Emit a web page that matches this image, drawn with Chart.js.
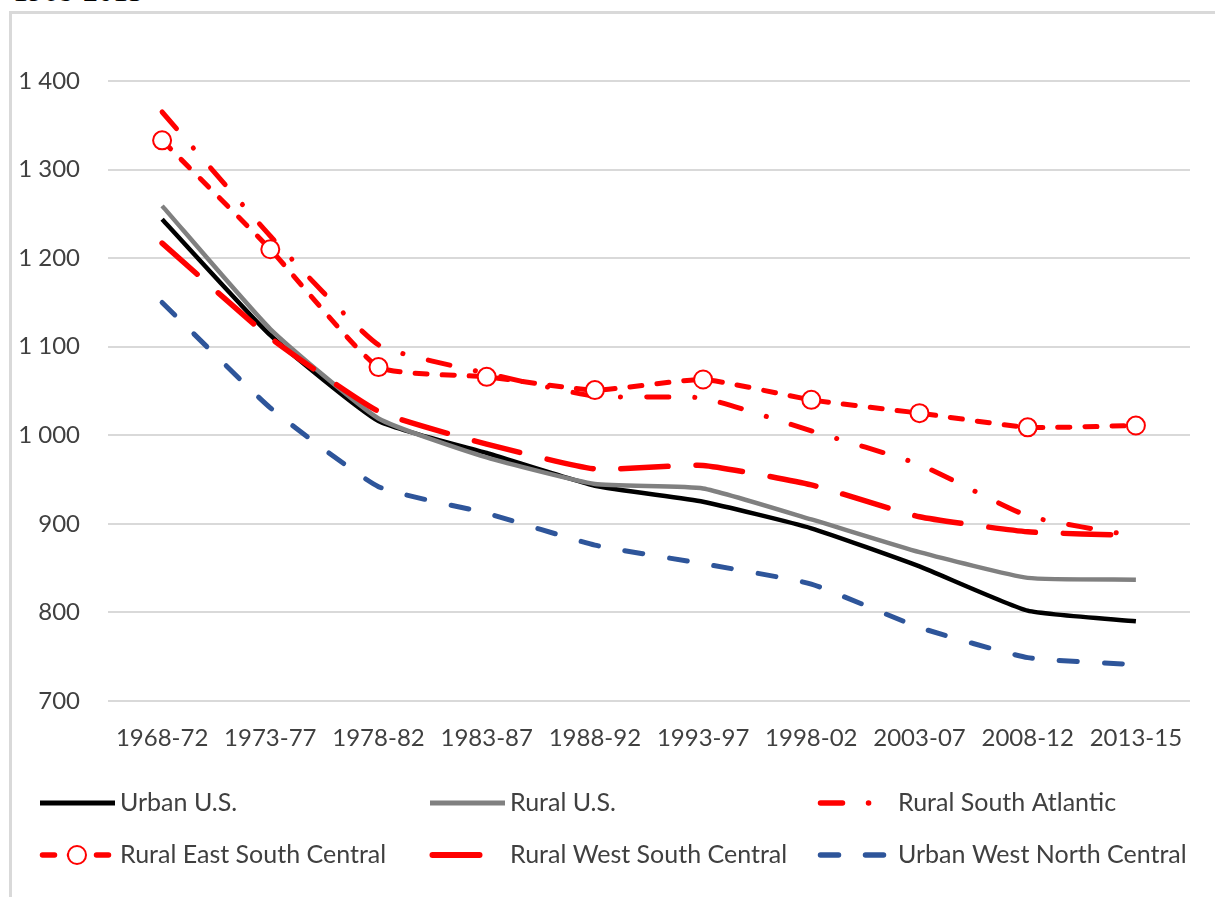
<!DOCTYPE html>
<html>
<head>
<meta charset="utf-8">
<script src="https://cdn.jsdelivr.net/npm/chart.js@4.4.1/dist/chart.umd.min.js"></script>
<style>
  html, body { margin: 0; padding: 0; background: #fff; overflow: hidden; }
  body { width: 1215px; height: 897px; position: relative; }
  #periodo { position: absolute; left: 13px; top: -24px; font: 30px "Liberation Serif", serif; line-height: 1; color: #000; }
  #marco { position: absolute; left: 9px; top: 11px; width: 1400px; height: 1000px; border: 3px solid #d9d9d9; box-sizing: border-box; }
  #lienzo { position: absolute; left: 0; top: 0; }
</style>
</head>
<body>
<div id="periodo">1968-2015</div>
<div id="marco"></div>
<canvas id="lienzo" width="1215" height="897"></canvas>
<script>
// periodos y tasas por serie
const categories = ['1968-72', '1973-77', '1978-82', '1983-87', '1988-92', '1993-97', '1998-02', '2003-07', '2008-12', '2013-15'];
const urbanUS = [1244, 1113, 1016, 980, 943, 925, 895, 852, 802, 790];
const ruralUS = [1259, 1120, 1019, 975, 945, 940, 905, 868, 839, 837];
const ruralSouthAtlantic = [1365, 1225, 1102, 1070, 1044, 1042, 1005, 967, 909, 886];
const ruralEastSouthCentral = [1333, 1210, 1077, 1066, 1051, 1063, 1040, 1025, 1009, 1011];
const ruralWestSouthCentral = [1217, 1110, 1027, 990, 962, 966, 944, 908, 891, 887];
const urbanWestNorthCentral = [1150, 1031, 942, 912, 876, 855, 832, 783, 749, 741];
const yTicks = [700, 800, 900, 1000, 1100, 1200, 1300, 1400];

const FUENTE = 'Lato, "Open Sans", sans-serif';
const GRIS_TEXTO = '#404040';
const ROJO = '#ff0000';

const series = [
  { label: 'Urban U.S.', data: urbanUS, borderColor: '#000000', borderWidth: 4.5, borderDash: [] },
  { label: 'Rural U.S.', data: ruralUS, borderColor: '#808080', borderWidth: 4.5, borderDash: [] },
  { label: 'Rural South Atlantic', data: ruralSouthAtlantic, borderColor: ROJO, borderWidth: 5, borderDash: [22, 26, 0.1, 26] },
  { label: 'Rural East South Central', data: ruralEastSouthCentral, borderColor: ROJO, borderWidth: 5, borderDash: [12, 15], circulos: true },
  { label: 'Rural West South Central', data: ruralWestSouthCentral, borderColor: ROJO, borderWidth: 5.5, borderDash: [47, 28] },
  { label: 'Urban West North Central', data: urbanWestNorthCentral, borderColor: '#2e559a', borderWidth: 5, borderDash: [18, 27] }
];

const datasets = series.map((s, i) => ({
  label: s.label,
  data: s.data,
  borderColor: s.borderColor,
  borderWidth: s.borderWidth,
  borderDash: s.borderDash,
  borderCapStyle: s.borderDash.length ? 'round' : 'butt',
  borderJoinStyle: 'round',
  tension: 0.15,
  fill: false,
  order: series.length - i,
  pointRadius: s.circulos ? 9 : 0,
  pointHoverRadius: s.circulos ? 9 : 0,
  pointBackgroundColor: '#ffffff',
  pointBorderColor: s.borderColor,
  pointBorderWidth: 2
}));

// leyenda en tres columnas y dos filas
const columnas = [40, 430, 818];
const filas = [803, 855];
const leyendaPlugin = {
  id: 'leyendaColumnas',
  afterDraw(chart) {
    const ctx = chart.ctx;
    chart.data.datasets.forEach((ds, i) => {
      const x0 = columnas[i % 3];
      const y = filas[Math.floor(i / 3)];
      ctx.save();
      ctx.strokeStyle = ds.borderColor;
      ctx.lineWidth = ds.borderWidth + 0.5;
      ctx.lineCap = ds.borderCapStyle;
      ctx.setLineDash(ds.borderDash);
      const inicio = ds.borderDash.length ? x0 + 2.5 : x0;
      ctx.beginPath();
      ctx.moveTo(inicio, y);
      ctx.lineTo(x0 + 75, y);
      ctx.stroke();
      if (ds.pointRadius > 0) {
        ctx.setLineDash([]);
        ctx.beginPath();
        ctx.arc(x0 + 37, y, ds.pointRadius, 0, Math.PI * 2);
        ctx.fillStyle = ds.pointBackgroundColor;
        ctx.fill();
        ctx.lineWidth = ds.pointBorderWidth;
        ctx.strokeStyle = ds.pointBorderColor;
        ctx.stroke();
      }
      ctx.fillStyle = GRIS_TEXTO;
      ctx.font = '25px ' + FUENTE;
      ctx.textBaseline = 'middle';
      ctx.fillText(ds.label, x0 + 80, y);
      ctx.restore();
    });
  }
};

const fmt = v => v >= 1000 ? Math.floor(v / 1000) + ' ' + String(v % 1000).padStart(3, '0') : String(v);

new Chart(document.getElementById('lienzo'), {
  type: 'line',
  data: { labels: categories, datasets },
  plugins: [leyendaPlugin],
  options: {
    responsive: false,
    animation: false,
    devicePixelRatio: 1,
    layout: { padding: { left: 0, right: 25, top: 81, bottom: 126 } },
    plugins: { legend: { display: false }, tooltip: { enabled: false } },
    scales: {
      x: {
        type: 'category',
        offset: true,
        grid: { display: false, drawTicks: false },
        border: { display: false },
        ticks: { color: GRIS_TEXTO, font: { family: FUENTE, size: 24 }, padding: 23, maxRotation: 0, autoSkip: false },
        afterFit: s => { s.height = 70; }
      },
      y: {
        min: yTicks[0],
        max: yTicks[yTicks.length - 1],
        afterBuildTicks: s => { s.ticks = yTicks.map(v => ({ value: v })); },
        grid: { color: '#d9d9d9', lineWidth: 2, drawTicks: false },
        border: { display: false },
        ticks: { color: GRIS_TEXTO, font: { family: FUENTE, size: 24 }, padding: 28, callback: v => fmt(v) },
        afterFit: s => { s.width = 108; }
      }
    }
  }
});
</script>
</body>
</html>
